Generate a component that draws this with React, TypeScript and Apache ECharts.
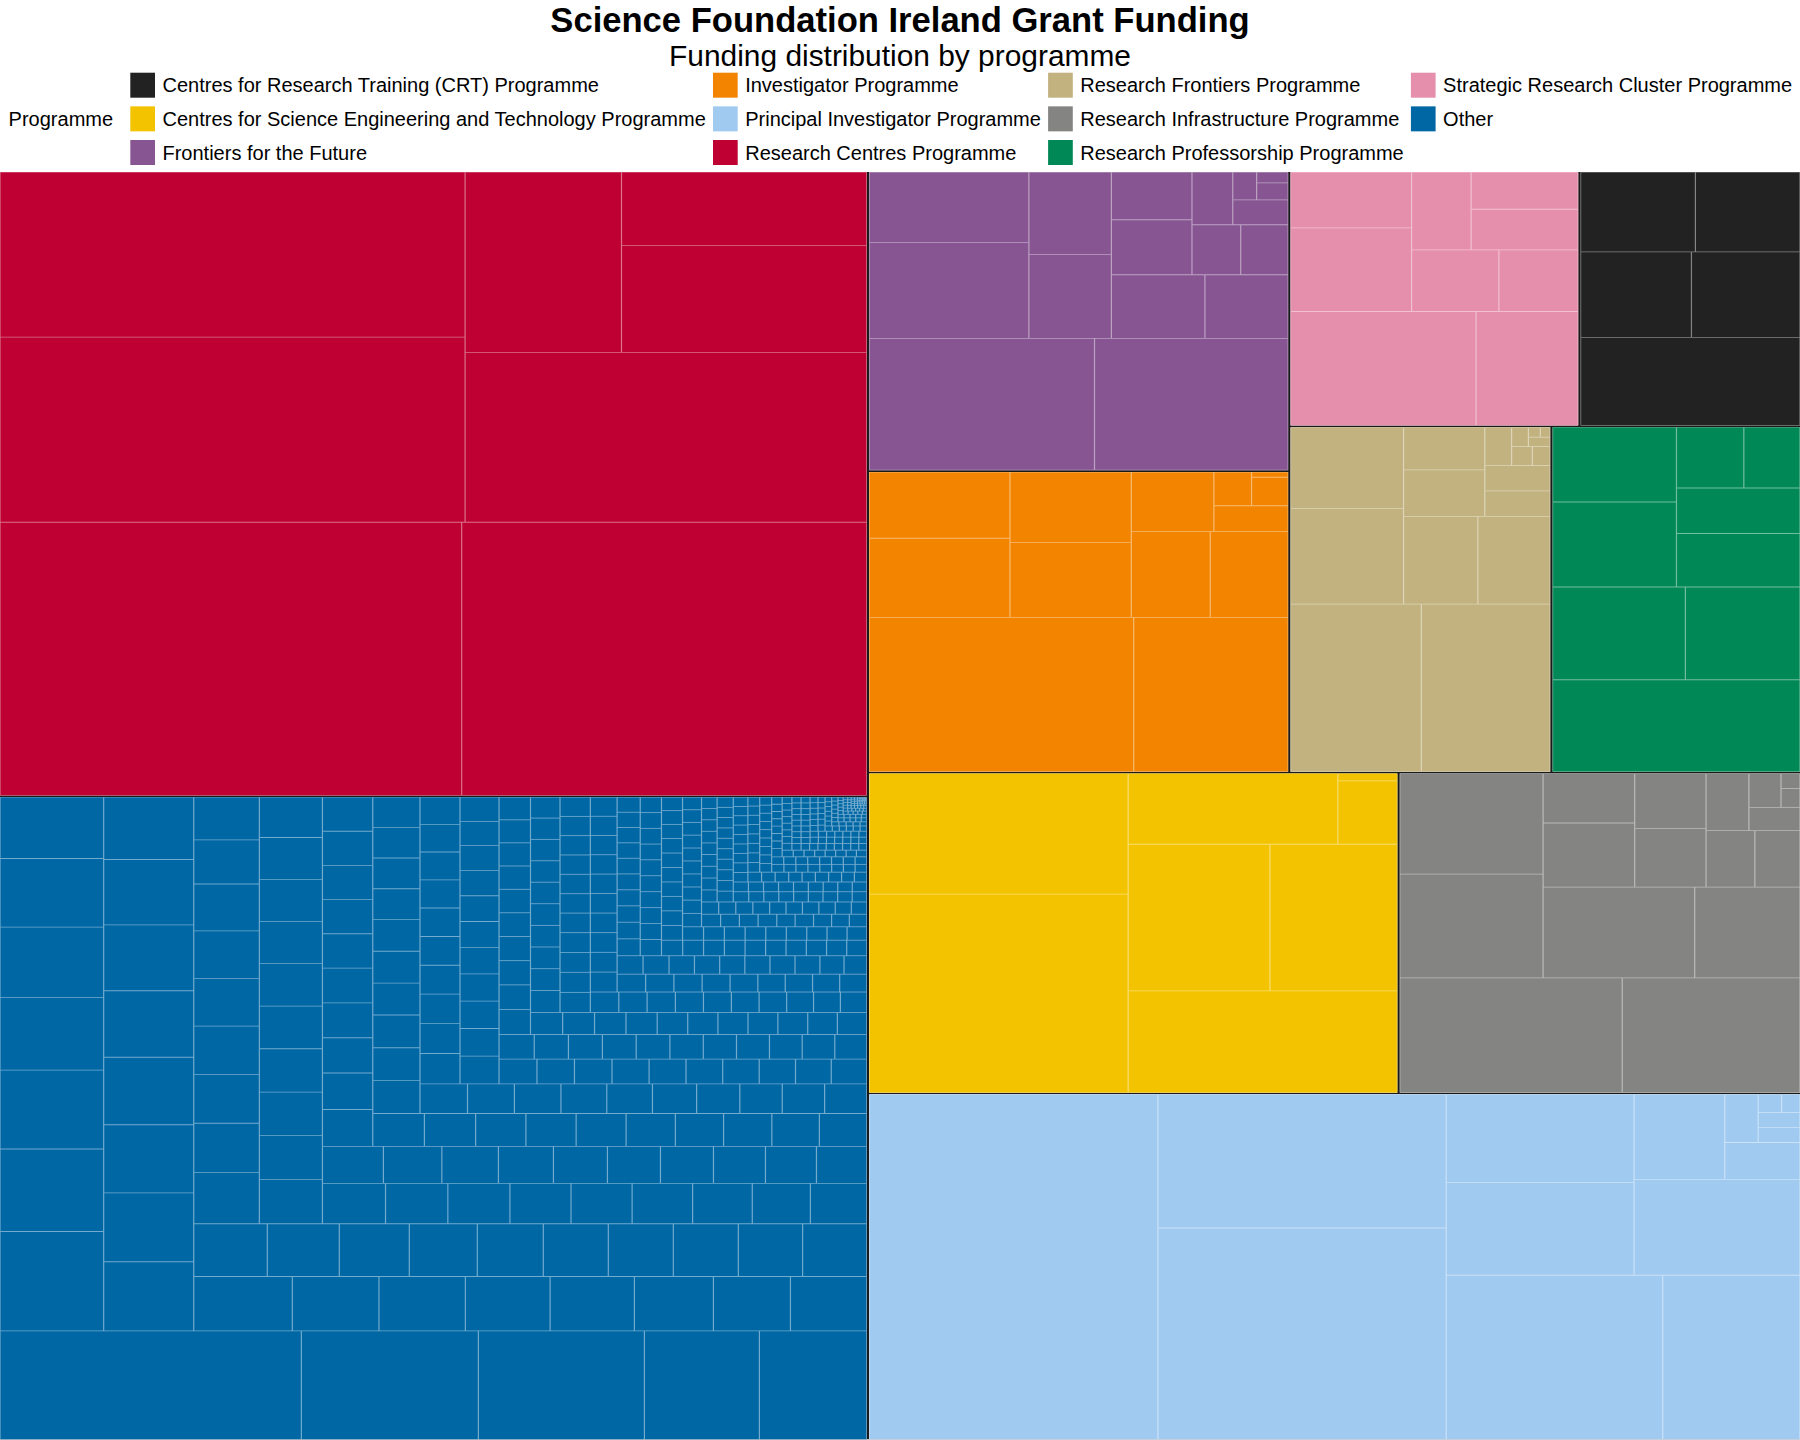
import React, { useEffect, useRef } from "react";
import * as echarts from "echarts";

// ---------- text ----------
const TITLE = "Science Foundation Ireland Grant Funding";
const SUBTITLE = "Funding distribution by programme";
const LEGEND_TITLE = "Programme";

// ---------- categories ----------
const programmes = [
  "Centres for Research Training (CRT) Programme",
  "Centres for Science Engineering and Technology Programme",
  "Frontiers for the Future",
  "Investigator Programme",
  "Principal Investigator Programme",
  "Research Centres Programme",
  "Research Frontiers Programme",
  "Research Infrastructure Programme",
  "Research Professorship Programme",
  "Strategic Research Cluster Programme",
  "Other",
];
const programmeColors = [
  "#222222", "#F3C300", "#875692", "#F38400", "#A1CAF1", "#BE0032",
  "#C2B280", "#848482", "#008856", "#E68FAC", "#0067A5",
];

// ---------- grant values (relative funding amounts) ----------
const crtGrants = [19598, 9621, 9423, 9303, 8477];
const csetGrants = [51780, 31484, 27581, 20933, 18816, 14953, 3803, 443];
const fffGrants = [29979, 25759, 15434, 11370, 6972, 6881, 5997, 5340, 4471, 3880, 2460, 2395, 2169, 1387, 672, 542, 346];
const investigatorGrants = [41177, 24040, 11243, 9416, 9162, 8638, 6828, 6734, 4972, 1944, 1283, 1052, 195];
const piGrants = [100167, 61268, 38726, 35756, 22663, 17521, 16636, 15965, 7754, 2790, 1618, 629, 629, 428, 339];
const researchCentresGrants = [126478, 110970, 86304, 77004, 68433, 28277, 26212, 18120];
const researchFrontiersGrants = [22176, 21840, 10910, 9314, 6600, 6424, 3821, 3510, 1690, 1670, 1040, 401, 344, 330, 205, 121, 101];
const infrastructureGrants = [25737, 20562, 14997, 14564, 13878, 9637, 5922, 4577, 4236, 3949, 2779, 2570, 2474, 1203, 1098, 363, 287];
const professorshipGrants = [23022, 12462, 10760, 10650, 9375, 6684, 5686, 4148, 3459];
const clusterGrants = [21393, 11783, 10248, 6844, 5447, 4952, 4692, 4406, 4039];
const otherGrants = [
  32842, 19293, 18094, 12535, 11696,
  10330, 8574, 8202, 7551, 7303, 7128, 6219,
  6380, 6240, 6150, 6100, 6000, 5950, 5900, 5630,
  5374, 4720, 4709, 4616, 4594, 4306, 4197, 4158,
  3893, 3809, 3703, 3597, 3491, 3439, 3439, 3439, 3401, 3386,
  3392, 3228, 3221, 3175, 3142, 3116, 3090, 2900, 2814,
  2790, 2780, 2760, 2740, 2700, 2680, 2670, 2660, 2650, 2520,
  2552, 2552, 2511, 2471, 2471, 2446, 2414, 2349, 2280,
  2269, 2172, 2106, 2046, 2009, 1972, 1972, 1934, 1897, 1871,
  1860, 1840, 1780, 1760, 1750, 1740, 1730, 1720, 1700, 1645,
  1721, 1721, 1688, 1655, 1655, 1622, 1589, 1589, 1566, 1556,
  1560, 1555, 1550, 1510, 1505, 1500, 1460, 1455, 1440, 1354,
  1440, 1410, 1390, 1380, 1360, 1310, 1280, 1260, 1255, 1250,
  1220, 1205, 1175, 1160, 1155, 1140, 1130, 1120, 1095, 1068,
  1104, 1090, 1080, 1070, 1030, 1020, 1010, 990, 970, 950, 930,
  950, 940, 930, 920, 915, 910, 905, 900, 886, 833,
  880, 870, 845, 840, 835, 826, 820, 815, 810, 805, 763,
  790, 785, 780, 760, 750, 740, 735, 730, 725, 711,
  715, 705, 695, 690, 675, 668, 665, 660, 650, 640, 611,
  660, 655, 650, 645, 643, 640, 637, 635, 633, 630,
  620, 610, 605, 600, 595, 590, 587, 585, 583, 580,
  590, 588, 586, 580, 575, 572, 568, 565, 551, 525,
  550, 540, 535, 530, 528, 524, 521, 517, 513, 505,
  520, 515, 510, 505, 500, 496, 490, 485, 480, 465,
  488, 484, 480, 470, 466, 465, 463, 460, 446, 420,
  392, 385, 380, 372, 368, 363, 358, 354, 350, 340,
  355, 345, 340, 340, 340, 335, 335, 335, 330, 325,
  340, 315, 310, 310, 305, 305, 305, 305, 305, 300, 280,
  330, 325, 322, 320, 318, 316, 314, 312, 290,
  285, 283, 280, 278, 277, 275, 273, 270, 265,
  255, 252, 250, 248, 247, 246, 245, 243, 240, 236,
  240, 240, 235, 235, 231, 231, 227, 223, 210,
  219, 211, 211, 207, 202, 202, 202, 202, 198, 182,
  190, 188, 186, 184, 183, 182, 180, 178, 176,
  175, 174, 172, 171, 170, 169, 168, 167, 166, 165,
  158, 155, 153, 151, 150, 149, 147, 145, 140,
  152, 150, 149, 148, 147, 146, 145, 142, 138,
  138, 136, 134, 133, 132, 131, 130, 128, 126, 122,
  142, 141, 140, 139, 138, 137, 136, 135,
  115, 114, 113, 112, 111, 110, 109, 106,
  104, 103, 102, 101, 100, 99, 98, 97, 96,
  94, 93, 92, 91, 91, 90, 90, 89, 88,
  96, 94, 93, 92, 91, 90, 89, 87,
  80, 79, 78, 77, 77, 76, 75, 74,
  72, 71, 70, 70, 70, 69, 69, 67,
  66, 65, 65, 64, 64, 63, 63, 62,
  57, 56, 56, 55, 55, 55, 54, 54, 53,
  54, 54, 53, 53, 53, 53, 52, 52,
  53, 53, 53, 52, 52, 52, 52, 51, 51,
  52, 51, 51, 50, 50, 50, 49, 49, 48, 48,
  48, 47, 46, 46, 45, 45, 44, 44, 43, 42,
  40, 39, 39, 38, 38, 37, 37, 36, 36, 35,
  33, 33, 32, 32, 31, 31, 30, 30, 29, 29,
  28, 27, 27, 26, 26, 25, 25, 24, 24, 23,
  22, 22, 21, 21, 20, 20, 19, 19, 18, 18,
  17, 17, 16, 16, 15, 15, 14, 14, 13, 13, 12, 12,
  11.5, 11, 11, 10.5, 10, 10, 9.5, 9.5, 9, 9, 8.5, 8.5,
  8, 8, 7.5, 7.5, 7, 7, 6.5, 6.5, 6, 6, 5.5, 5.5,
  5, 5, 4.8, 4.6, 4.4, 4.2, 4, 3.8, 3.6, 3.4, 3.2, 3,
  2.8, 2.6, 2.4, 2.2, 2, 1.8, 1.6, 1.4, 1.2, 1,
];

const grantsByProgramme = [
  crtGrants, csetGrants, fffGrants, investigatorGrants, piGrants,
  researchCentresGrants, researchFrontiersGrants, infrastructureGrants,
  professorshipGrants, clusterGrants, otherGrants,
];

// legend columns (ggplot fills column by column)
const legendColumns = [[0, 1, 2], [3, 4, 5], [6, 7, 8], [9, 10]];

// ---------- layout constants ----------
const FONT = "'Liberation Sans', Arial, Helvetica, sans-serif";
const PAGE_W = 1800;
const PANEL_TOP = 172.4;
const PANEL_H = 1440 - PANEL_TOP;
// treemapify lays out in a unit square, then stretches to the panel
const SQ_H = 1510;
const SQ_W = 1512; // a hair wider so the first row becomes a column
const LEGEND_LEFTS = [130.3, 713, 1048.1, 1410.9];

function lighten(hex: string, a: number): string {
  const n = parseInt(hex.slice(1), 16);
  const r = (n >> 16) & 255;
  const g = (n >> 8) & 255;
  const b = n & 255;
  const m = (c: number) => Math.round(c * (1 - a) + 255 * a);
  return `rgb(${m(r)},${m(g)},${m(b)})`;
}

export default function App() {
  const headRef = useRef<HTMLDivElement>(null);
  const mapRef = useRef<HTMLDivElement>(null);

  useEffect(() => {
    const head = echarts.init(headRef.current!, null, { renderer: "svg" });
    const map = echarts.init(mapRef.current!, null, { renderer: "svg" });

    head.setOption({
      animation: false,
      title: [
        {
          text: TITLE,
          left: "center",
          top: 20,
          textVerticalAlign: "middle",
          padding: 0,
          textStyle: { fontFamily: FONT, fontSize: 34.6, lineHeight: 32, fontWeight: "bold", color: "#000" },
        },
        {
          text: SUBTITLE,
          left: "center",
          top: 55,
          textVerticalAlign: "middle",
          padding: 0,
          textStyle: { fontFamily: FONT, fontSize: 29.9, lineHeight: 30, fontWeight: "normal", color: "#000" },
        },
        {
          text: LEGEND_TITLE,
          left: 8.6,
          top: 119,
          textVerticalAlign: "middle",
          padding: 0,
          textStyle: { fontFamily: FONT, fontSize: 20, fontWeight: "normal", color: "#000" },
        },
      ],
      legend: legendColumns.map((col, c) => ({
        orient: "vertical",
        left: LEGEND_LEFTS[c],
        top: 72.7,
        padding: 0,
        itemWidth: 24.7,
        itemHeight: 25,
        itemGap: 8.65,
        icon: "rect",
        selectedMode: false,
        data: col.map((i) => programmes[i]),
        textStyle: { fontFamily: FONT, fontSize: 20, color: "#000", padding: [0, 0, 0, 2.5] },
      })),
      series: [
        {
          type: "pie",
          radius: [0, 0],
          center: [-200, -200],
          silent: true,
          label: { show: false },
          labelLine: { show: false },
          data: programmes.map((p, i) => ({ name: p, value: 1, itemStyle: { color: programmeColors[i] } })),
        },
      ],
    });

    const treemapData = programmes.map((p, i) => {
      const line = lighten(programmeColors[i], 0.45);
      return {
        name: p,
        // group background shows through seams, so give it the light line colour
        itemStyle: { color: programmeColors[i], borderColor: line, borderWidth: 0, gapWidth: 0 },
        children: grantsByProgramme[i].map((v, j) => ({
          name: `${p} ${j + 1}`,
          value: v,
          itemStyle: { color: programmeColors[i], borderColor: line, borderWidth: 0.5, gapWidth: 0 },
        })),
      };
    });

    map.setOption({
      animation: false,
      series: [
        {
          type: "treemap",
          left: 0,
          top: 0,
          width: SQ_W,
          height: SQ_H,
          roam: false,
          nodeClick: false,
          breadcrumb: { show: false },
          squareRatio: 1,
          visibleMin: 0,
          sort: "desc",
          label: { show: false },
          upperLabel: { show: false },
          levels: [
            // root: its dark background shows in the gaps between programmes
            { itemStyle: { borderWidth: 0, borderColor: "#1a1a1a", gapWidth: 2.0 } },
            { itemStyle: { borderWidth: 0, gapWidth: 0 } },
            { itemStyle: { borderWidth: 0.5, gapWidth: 0 } },
          ],
          data: treemapData,
        },
      ],
    });

    return () => {
      head.dispose();
      map.dispose();
    };
  }, []);

  const sx = PAGE_W / SQ_W;
  const sy = PANEL_H / SQ_H;

  return (
    <div style={{ position: "absolute", left: 0, top: 0, width: PAGE_W, height: 1440, background: "#fff", overflow: "hidden" }}>
      <div ref={headRef} style={{ position: "absolute", left: 0, top: 0, width: PAGE_W, height: 172 }} />
      <div style={{ position: "absolute", left: 0, top: PANEL_TOP, width: PAGE_W, height: PANEL_H, overflow: "hidden" }}>
        <div
          ref={mapRef}
          style={{
            position: "absolute",
            left: 0,
            top: 0,
            width: SQ_W,
            height: SQ_H,
            transformOrigin: "0 0",
            transform: `matrix(${sx}, 0, 0, ${-sy}, 0, ${PANEL_H})`,
          }}
        />
      </div>
    </div>
  );
}
